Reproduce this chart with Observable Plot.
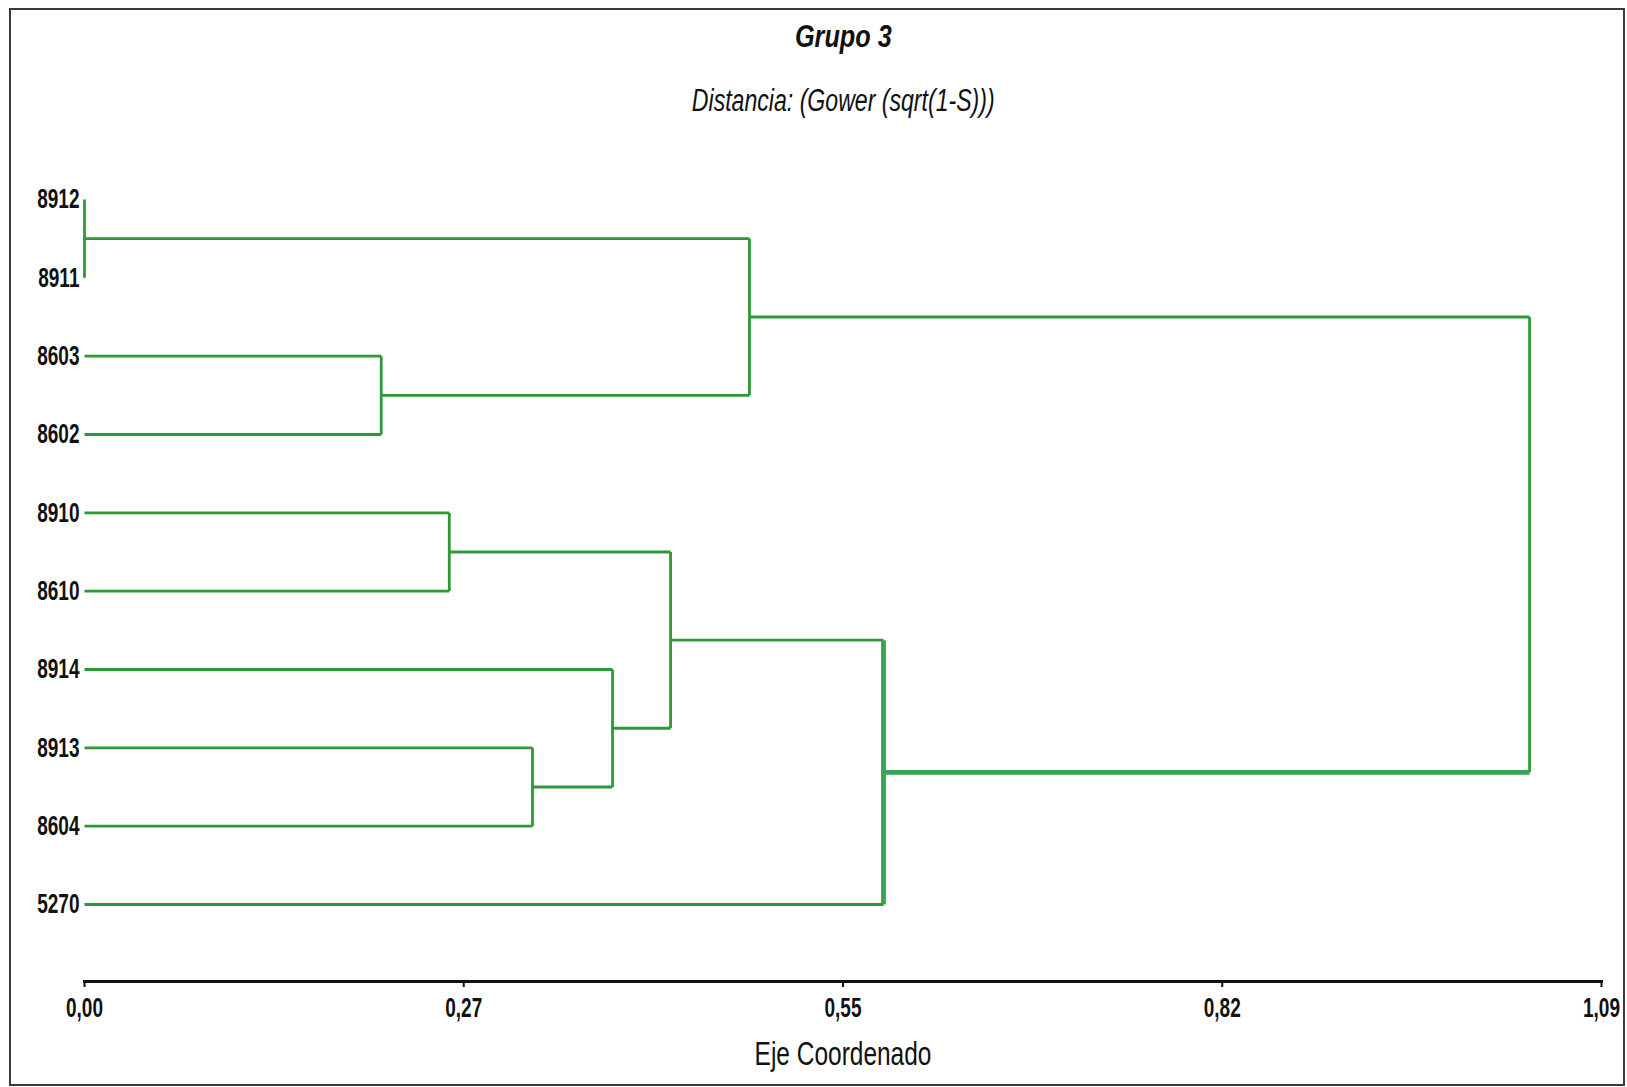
<!DOCTYPE html>
<html>
<head>
<meta charset="utf-8">
<script src="https://cdn.jsdelivr.net/npm/d3@7"></script>
<script src="https://cdn.jsdelivr.net/npm/@observablehq/plot@0.6"></script>
<style>
  html, body { margin: 0; padding: 0; background: #fff; }
  body { width: 1627px; height: 1087px; position: relative; overflow: hidden;
         font-family: "Liberation Sans", Arial, sans-serif; }
  #frame { position: absolute; left: 9px; top: 8px; width: 1616px; height: 1078px;
           border: 2px solid #3a3a3a; box-sizing: border-box; pointer-events: none; }
  .ttl { position: absolute; left: 30px; width: 1627px; text-align: center; color: #111; white-space: nowrap; }
  .ttl span { display: inline-block; }
  #title { top: 16px; font-size: 32px; font-weight: bold; font-style: italic; line-height: 40px; }
  #title span { transform: scale(0.79, 1); }
  #subtitle { top: 81px; font-size: 31px; font-style: italic; line-height: 40px; }
  #subtitle span { transform: scale(0.745, 1); }
  #chart { position: absolute; left: 0; top: 140px; }
</style>
</head>
<body>
<div id="title" class="ttl"><span>Grupo 3</span></div>
<div id="subtitle" class="ttl"><span>Distancia: (Gower (sqrt(1-S)))</span></div>
<div id="chart"></div>
<div id="frame"></div>
<script>
// ---- data ----
const leaves = ["8912", "8911", "8603", "8602", "8910", "8610", "8914", "8913", "8604", "5270"];
// merges in order: m1 .. m9  (left member, right member, distance)
const mergeA = ["8912", "8603", "m1", "8910", "8913", "8914", "m4", "m7", "m3"];
const mergeB = ["8911", "8602", "m2", "8610", "8604", "m5", "m6", "5270", "m8"];
const mergeHeight = [0.000, 0.2132, 0.4778, 0.2621, 0.3219, 0.3794, 0.4211, 0.5741, 1.0383];
const tickValues = [0, 0.2725, 0.545, 0.8175, 1.09];
const tickLabels = ["0,00", "0,27", "0,55", "0,82", "1,09"];
const xLabel = "Eje Coordenado";
const emphasised = "m8";

// ---- build dendrogram segments ----
const pos = {};
leaves.forEach((l, i) => { pos[l] = {y: i, h: 0}; });
const segs = [];
mergeA.forEach((a, k) => {
  const id = "m" + (k + 1);
  const b = mergeB[k];
  const A = pos[a], B = pos[b], h = mergeHeight[k];
  segs.push({node: a, x1: A.h, y1: A.y, x2: h, y2: A.y});
  segs.push({node: b, x1: B.h, y1: B.y, x2: h, y2: B.y});
  segs.push({node: id, x1: h, y1: A.y, x2: h, y2: B.y});
  pos[id] = {y: (A.y + B.y) / 2, h};
});
const thin = segs.filter(d => d.node !== emphasised);
const thick = segs.filter(d => d.node === emphasised);

const font = `"Liberation Sans", Arial, sans-serif`;

const chart = Plot.plot({
  width: 1627,
  height: 940,
  marginLeft: 84,
  marginRight: 26,
  marginTop: 20,
  marginBottom: 99,
  style: {fontFamily: font, background: "transparent", overflow: "visible"},
  x: {domain: [0, 1.09]},
  y: {domain: [0, leaves.length - 1], range: [59, 764]},
  marks: [
    Plot.link(thin, {x1: "x1", y1: "y1", x2: "x2", y2: "y2", stroke: "#2b9a36", strokeWidth: 2.8}),
    Plot.link(thick, {x1: "x1", y1: "y1", x2: "x2", y2: "y2", stroke: "#34a555", strokeWidth: 4.8}),
    Plot.axisY({ticks: d3.range(leaves.length), tickFormat: i => leaves[i], tickSize: 0, tickPadding: 5,
                fontSize: 28, fontWeight: "bold", fill: "#111", label: null}),
    Plot.frame({anchor: "bottom", stroke: "#111", strokeWidth: 3}),
    Plot.axisX({ticks: tickValues, tickFormat: (d, i) => tickLabels[i], tickSize: 6, tickPadding: 10,
                strokeWidth: 2, stroke: "#111", fontSize: 28, fontWeight: "bold", fill: "#111", label: null}),
    Plot.text([xLabel], {frameAnchor: "bottom", dy: 83, fontSize: 34, fill: "#111", text: d => d})
  ]
});
// narrow the lettering (condensed look of the original)
chart.querySelectorAll("text").forEach(el => {
  const sx = el.textContent === xLabel ? 0.72 : 0.68;
  const t = el.getAttribute("transform") || "";
  el.setAttribute("transform", `${t} scale(${sx},1)`);
});
document.getElementById("chart").appendChild(chart);
</script>
</body>
</html>
